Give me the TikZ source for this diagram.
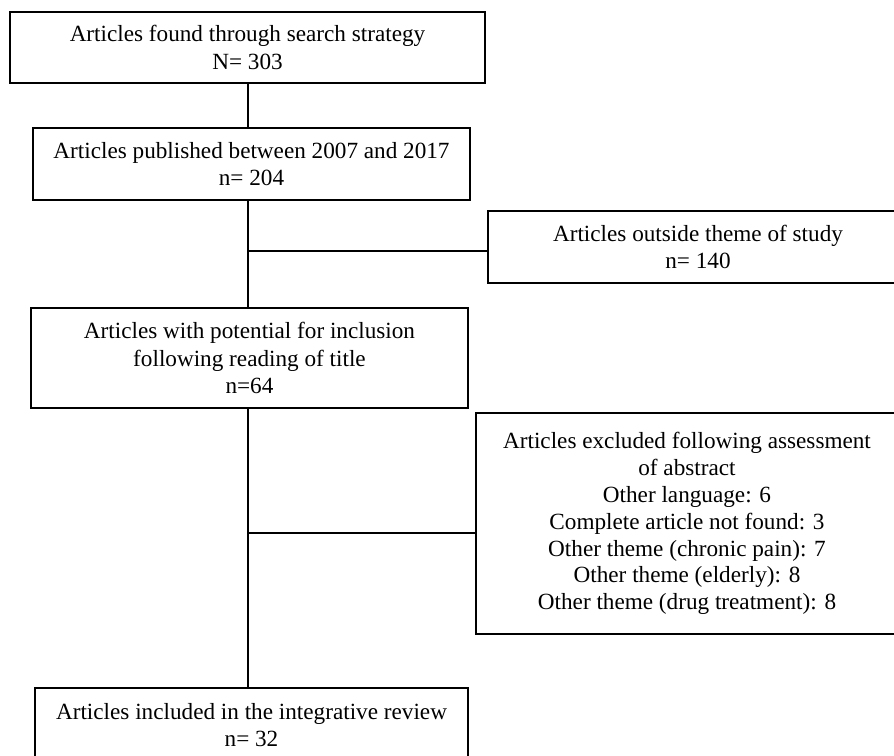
\documentclass[tikz,border=0pt]{standalone}
\usepackage{fontspec}
\setmainfont{Liberation Serif}
\usetikzlibrary{positioning, calc}

\begin{document}
\begin{tikzpicture}[
    x=0.02cm, y=-0.02cm,
    stage/.style={draw, line width=0.9pt, align=center, inner sep=2pt, font=\fontsize{13.2}{15.8}\selectfont},
    link/.style={line width=1.7pt}
]

\useasboundingbox (0,0) rectangle (894,756);

% Main flow
\node[stage, minimum width=9.5cm, minimum height=1.42cm] (found) at (247.5, 47.5) {Articles found through search strategy\\N= 303};
\node[stage, minimum width=8.74cm, minimum height=1.44cm] (published) at (251.5, 164) {Articles published between 2007 and 2017\\n= 204};
\node[stage, minimum width=8.74cm, minimum height=2.0cm] (potential) at (249.5, 358) {Articles with potential for inclusion\\following reading of title\\n=64};
\node[stage, minimum width=8.66cm, minimum height=1.48cm] (included) at (251.5, 725) {Articles included in the integrative review\\n= 32};

% Exclusions
\node[stage, minimum width=8.4cm, minimum height=1.44cm] (outside) at (698, 247) {Articles outside theme of study\\n= 140};
\node[stage, minimum width=8.44cm, minimum height=4.42cm, font=\fontsize{13.2}{15.3}\selectfont] (excluded) at (687, 523.5) {Articles excluded following assessment\\of abstract\\Other language: 6\\Complete article not found: 3\\Other theme (chronic pain): 7\\Other theme (elderly): 8\\Other theme (drug treatment): 8};

% Junctions
\coordinate (j1) at (248, 251);
\coordinate (j2) at (248, 533);

% Connections
\draw[link] (j1 |- found.south) -- (j1 |- published.north);
\draw[link] (j1 |- published.south) -- (j1 |- potential.north);
\draw[link] (j1) -- (j1 -| outside.west);
\draw[link] (j2 |- potential.south) -- (j2 |- included.north);
\draw[link] (j2) -- (j2 -| excluded.west);

\end{tikzpicture}
\end{document}
